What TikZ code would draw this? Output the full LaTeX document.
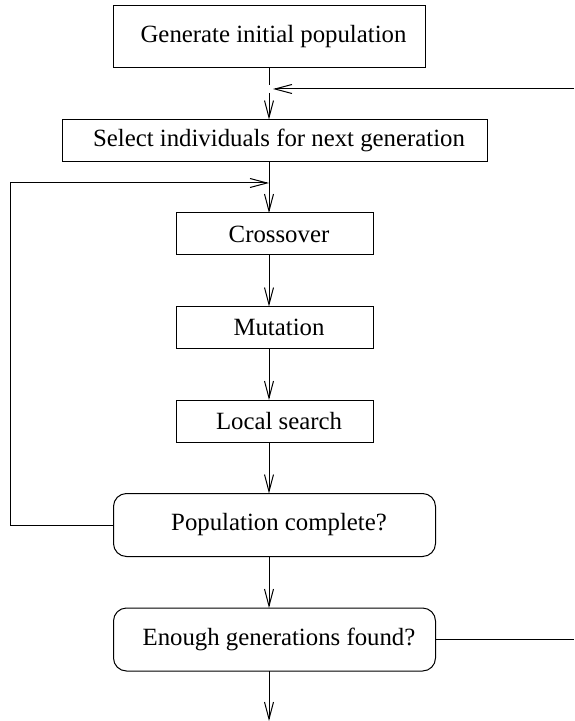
\documentclass[tikz,border=0pt]{standalone}
\usepackage{fontspec}
\setmainfont{Liberation Serif}
\usetikzlibrary{positioning}
\usetikzlibrary{arrows.meta}
\tikzstyle{stage} = [rectangle,draw=black,line width=0.5pt,inner sep=0pt,outer sep=0pt,minimum width=98.5pt,minimum height=21pt, font=\fontsize{12.4}{14}\selectfont, execute at begin node={\hspace*{4.5pt}}]
\tikzstyle{test} = [stage, rounded corners=6.5pt, minimum width=161pt, minimum height=31.5pt]
\tikzstyle{flow} = [-{Straight Barb[length=8.5pt,width=4.5pt]}, line width=0.5pt]
\tikzstyle{wire} = [line width=0.5pt]

\begin{document}
\begin{tikzpicture}[x=0.5pt,y=-0.5pt,node distance=25.75pt]
\useasboundingbox (0,0) rectangle (574,721);

% Define nodes
\node[stage, minimum width=156pt, minimum height=31pt, execute at begin node={}] (init) at (269,37) {Generate initial population};
\node[stage, below = of init, xshift=2.75pt, minimum width=212.5pt] (select) {Select individuals for next generation};
\node[stage, below = of select]                   (cross)  {Crossover};
\node[stage, below = of cross]                    (mut)    {Mutation};
\node[stage, below = of mut]                      (local)  {Local search};
\node[test,  below = of local]                    (pop)    {Population complete?};
\node[test,  below = of pop]                      (enough) {Enough generations found?};

\coordinate (spine) at (269,0);
\coordinate (rim)   at (574,0);
\coordinate (gapA)  at (269,85);
\coordinate (gapB)  at (269,93);
\coordinate (feed)  at (574,89);
\coordinate (join)  at (273,89);
\coordinate (loop)  at (10,183);
\coordinate (merge) at (269,183);
\coordinate (stop)  at (269,721);

% Edges
\draw[wire] (init.south) -- (gapA);
\draw[flow] (feed) -- (join);
\draw[flow] (gapB) -- (select.north -| spine);
\draw[flow] (select.south -| spine) -- (cross.north -| spine);
\draw[flow] (pop.west) -| (loop) -- (merge);
\draw[flow] (cross.south -| spine) -- (mut.north -| spine);
\draw[flow] (mut.south -| spine) -- (local.north -| spine);
\draw[flow] (local.south -| spine) -- (pop.north -| spine);
\draw[flow] (pop.south -| spine) -- (enough.north -| spine);
\draw[wire] (enough.east) -- (enough.east -| rim);
\draw[flow] (enough.south -| spine) -- (stop);
\end{tikzpicture}
\end{document}
